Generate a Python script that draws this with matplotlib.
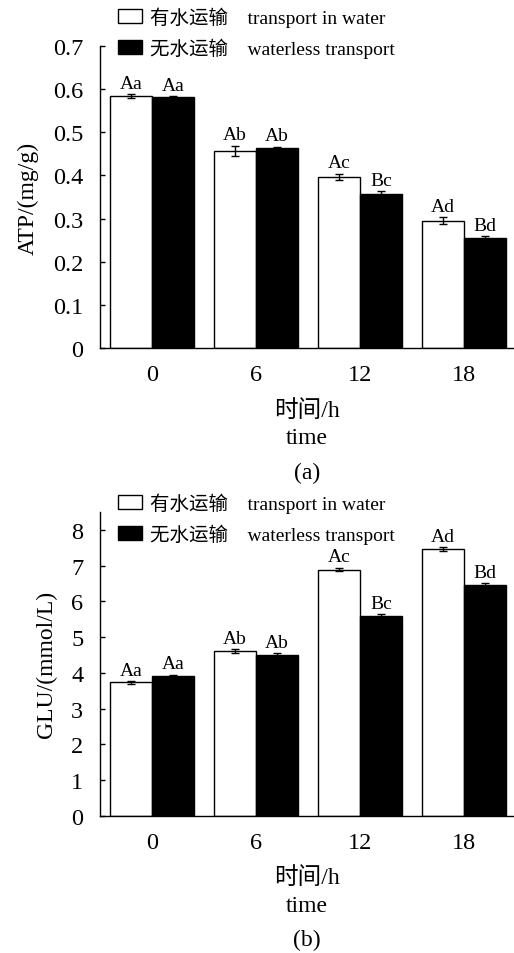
import numpy as np
import matplotlib
matplotlib.use("Agg")
import matplotlib.pyplot as plt

plt.rcParams['font.family'] = ['Liberation Serif', 'Noto Sans CJK SC']
plt.rcParams['axes.unicode_minus'] = False

# ---- data ----
times = ['0', '6', '12', '18']
atp_water = [0.584, 0.457, 0.397, 0.295]
atp_water_err = [0.005, 0.012, 0.007, 0.0075]
atp_dry = [0.581, 0.464, 0.357, 0.255]
atp_dry_err = [0.002, 0.003, 0.007, 0.005]
atp_lab_water = ['Aa', 'Ab', 'Ac', 'Ad']
atp_lab_dry = ['Aa', 'Ab', 'Bc', 'Bd']
atp_yticks = [0, 0.1, 0.2, 0.3, 0.4, 0.5, 0.6, 0.7]
atp_yticklabels = ['0', '0.1', '0.2', '0.3', '0.4', '0.5', '0.6', '0.7']

glu_water = [3.73, 4.61, 6.89, 7.46]
glu_water_err = [0.03, 0.05, 0.05, 0.06]
glu_dry = [3.92, 4.51, 5.60, 6.46]
glu_dry_err = [0.03, 0.05, 0.04, 0.04]
glu_lab_water = ['Aa', 'Ab', 'Ac', 'Ad']
glu_lab_dry = ['Aa', 'Ab', 'Bc', 'Bd']
glu_yticks = [0, 1, 2, 3, 4, 5, 6, 7, 8]
glu_yticklabels = ['0', '1', '2', '3', '4', '5', '6', '7', '8']

legend_water = '有水运输\u3000transport in water'
legend_dry = '无水运输\u3000waterless transport'

W, H = 514, 954
fig = plt.figure(figsize=(W / 100, H / 100), dpi=100)
ax1 = fig.add_axes([100 / W, 1 - 349 / H, 413 / W, 302 / H])
ax2 = fig.add_axes([100 / W, 1 - 816.7 / H, 413 / W, 303.7 / H])

bw = 0.404


def draw(ax, water, werr, dry, derr, labw, labd, yticks, yticklabels, ylim,
         ylabel, leg_top):
    x = np.arange(len(times))
    ekw = dict(elinewidth=1, capthick=1, ecolor='black')
    b1 = ax.bar(x - bw / 2, water, bw, color='white', edgecolor='black',
                linewidth=1, yerr=werr, capsize=3, error_kw=ekw,
                label=legend_water)
    b2 = ax.bar(x + bw / 2, dry, bw, color='black', edgecolor='black',
                linewidth=1, yerr=derr, capsize=3, error_kw=ekw,
                label=legend_dry)
    for xi, v, e, t in zip(x - bw / 2, water, werr, labw):
        ax.annotate(t, xy=(xi, v + e), xytext=(0, 4.5), textcoords='offset points',
                    ha='center', va='baseline', fontsize=14)
    for xi, v, e, t in zip(x + bw / 2, dry, derr, labd):
        ax.annotate(t, xy=(xi, v + e), xytext=(0, 4.5), textcoords='offset points',
                    ha='center', va='baseline', fontsize=14)
    ax.set_xlim(-0.5, 3.47)
    ax.set_ylim(*ylim)
    ax.set_xticks(x)
    ax.set_xticklabels(times, fontsize=17.5)
    ax.set_yticks(yticks)
    ax.set_yticklabels(yticklabels, fontsize=17.5)
    ax.tick_params(axis='x', length=0, pad=11.5)
    ax.tick_params(axis='y', direction='in', length=3.6, width=1, pad=12)
    for s in ['top', 'right']:
        ax.spines[s].set_visible(False)
    for s in ['left', 'bottom']:
        ax.spines[s].set_linewidth(1)
    ax.set_ylabel(ylabel, fontsize=17, labelpad=10)
    ax.set_xlabel('时间/h\ntime', fontsize=17, linespacing=1.4, labelpad=10,
                  fontweight='light')
    ax.legend(handles=[b1, b2], loc='upper left',
              bbox_to_anchor=(118 / W, 1 - leg_top / H),
              bbox_transform=fig.transFigure, frameon=False, borderpad=0,
              prop={'size': 14, 'weight': 'light'},
              handlelength=1.23, handleheight=0.77,
              handletextpad=0.4, labelspacing=0.56, borderaxespad=0)
    return ax


draw(ax1, atp_water, atp_water_err, atp_dry, atp_dry_err, atp_lab_water,
     atp_lab_dry, atp_yticks, atp_yticklabels, (0, 0.7), 'ATP/(mg/g)', 7)
draw(ax2, glu_water, glu_water_err, glu_dry, glu_dry_err, glu_lab_water,
     glu_lab_dry, glu_yticks, glu_yticklabels, (0, 8.5), 'GLU/(mmol/L)', 493)

fig.text(307 / W, 1 - 473 / H, '(a)', ha='center', va='center', fontsize=17)
fig.text(307 / W, 1 - 940 / H, '(b)', ha='center', va='center', fontsize=17)

fig.savefig('out.png', dpi=100)
